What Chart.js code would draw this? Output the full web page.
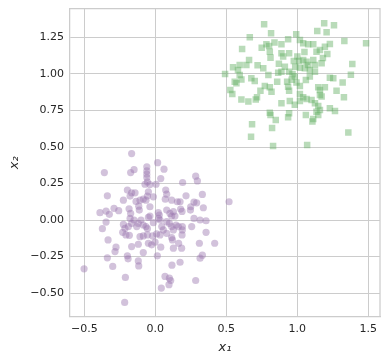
<!DOCTYPE html>
<html>
<head>
<meta charset="utf-8">
<script src="https://cdn.jsdelivr.net/npm/chart.js@4.4.0/dist/chart.umd.min.js"></script>
<style>
  html, body { margin: 0; padding: 0; background: #fff; }
  #wrap { width: 390px; height: 364px; }
</style>
</head>
<body>
<div id="wrap"><canvas id="scatter" width="390" height="364"></canvas></div>
<script>
// cluster around (0, 0)
const purpleX = [-0.167,-0.359,-0.174,-0.150,-0.06,-0.06,-0.06,-0.06,-0.056,0.016,0.061,0.038,0.284,0.296,0.192,
  -0.338,-0.197,-0.167,-0.143,-0.178,-0.225,-0.073,-0.038,0.005,-0.049,-0.056,-0.014,0.073,0.080,0.070,0.115,
  0.216,0.331,0.155,0.174,0.272,0.291,0.249,0.247,0.338,0.519,-0.390,-0.347,-0.324,-0.291,-0.258,-0.347,-0.373,
  -0.185,-0.174,-0.178,-0.136,-0.108,-0.117,-0.038,0.021,0.028,0.023,0.033,0.080,0.103,0.127,0.115,0.138,0.178,
  0.188,0.272,0.315,0.357,0.256,0.190,0.190,0.188,0.357,0.418,0.310,0.331,0.315,0.284,0.174,0.117,0.068,0.099,
  0.108,0.096,0.042,0.014,0.038,-0.211,-0.216,-0.502,-0.300,-0.338,-0.284,-0.277,-0.333,-0.197,-0.192,-0.120,
  -0.117,-0.167,-0.230,-0.207,-0.183,-0.085,-0.120,-0.108,-0.085,-0.056,-0.049,-0.026,-0.002,-0.019,0.009,0.033,
  0.045,0.056,0.080,0.115,0.120,0.127,0.164,0.185,0.115,0.127,0.146,0.162,0.080,0.099,-0.190,-0.167,-0.150,
  -0.131,-0.120,-0.101,-0.085,-0.066,-0.049,-0.014,-0.056,-0.225,-0.214,-0.113,-0.085,-0.066,-0.038];
const purpleY = [0.455,0.325,0.325,0.345,0.364,0.336,0.314,0.291,0.261,0.393,0.348,0.284,0.300,0.268,0.257,
  0.166,0.205,0.186,0.186,0.164,0.136,0.245,0.243,0.245,0.193,0.164,0.159,0.205,0.177,0.143,0.136,
  0.166,0.175,0.125,0.125,0.123,0.118,0.091,0.068,0.084,0.125,0.050,0.061,0.039,0.080,0.064,-0.014,-0.059,
  0.077,0.045,0.011,0.127,0.136,0.095,0.091,0.050,0.034,0.011,0.000,0.068,0.045,0.057,0.027,0.027,0.075,
  0.059,0.011,0.000,-0.005,-0.045,-0.045,-0.068,-0.102,-0.084,-0.159,-0.159,-0.241,-0.261,-0.414,-0.289,-0.309,-0.386,-0.398,
  -0.414,-0.443,-0.466,-0.245,-0.186,-0.393,-0.564,-0.334,-0.318,-0.259,-0.216,-0.186,-0.136,-0.245,-0.266,-0.280,
  -0.314,-0.182,-0.084,-0.102,-0.105,-0.223,-0.166,-0.114,-0.109,-0.102,-0.159,-0.170,-0.152,-0.109,-0.095,-0.102,
  -0.045,-0.068,-0.091,-0.120,-0.136,-0.193,-0.159,-0.193,-0.045,-0.068,-0.034,-0.045,-0.011,-0.023,-0.045,-0.023,0.000,
  -0.045,-0.023,0.000,-0.034,-0.045,0.018,-0.018,-0.059,-0.030,-0.057,0.068,0.143,0.136,0.027];

// cluster around (1, 1)
const greenX = [0.766,1.189,1.258,1.206,1.140,0.815,0.665,0.611,0.992,0.935,1.018,1.041,0.839,0.888,0.782,
  0.801,0.749,0.806,0.811,0.888,0.900,0.942,1.076,1.112,1.135,1.159,1.194,1.229,1.211,1.331,1.484,1.387,1.377,
  0.660,0.641,0.594,0.547,0.582,0.491,0.594,0.606,0.559,0.571,0.528,0.542,0.676,0.700,0.771,0.806,0.818,0.740,
  0.716,0.707,0.655,0.606,0.796,0.865,0.858,0.912,0.888,0.942,0.966,0.982,0.928,0.935,0.942,0.994,1.018,1.060,
  1.088,0.975,1.013,1.041,1.065,1.076,1.018,1.053,1.088,1.124,1.124,1.112,1.171,1.229,1.253,1.319,1.276,1.328,
  1.147,1.159,1.194,1.159,1.171,1.018,1.041,1.065,1.018,0.982,0.947,0.888,1.100,1.124,1.147,1.159,1.135,1.147,
  1.229,1.265,0.806,0.811,0.848,0.942,0.935,1.060,1.112,1.106,0.681,0.822,0.674,0.829,1.069,1.359,
  0.720,0.870,0.985,1.000,1.050,0.960,0.760,1.180];
const greenY = [1.340,1.347,1.333,1.285,1.295,1.279,1.251,1.171,1.272,1.237,1.233,1.210,1.215,1.203,1.203,
  1.192,1.180,1.153,1.112,1.142,1.119,1.142,1.203,1.203,1.153,1.164,1.187,1.205,1.137,1.226,1.210,1.068,0.995,
  1.096,1.062,1.062,1.046,1.027,1.000,0.993,0.963,0.947,0.936,0.890,0.863,0.970,0.952,0.918,0.909,0.879,0.886,
  0.840,0.826,0.811,0.826,0.993,1.009,0.947,1.050,1.016,1.016,1.000,0.982,0.947,0.913,0.886,0.941,0.918,0.959,
  0.982,1.089,1.089,1.096,1.084,1.062,1.043,1.039,1.027,1.016,1.062,1.096,1.073,0.975,0.970,0.941,0.886,0.840,
  0.909,0.890,0.909,0.856,0.845,0.863,0.840,0.829,0.815,0.790,0.815,0.799,0.822,0.799,0.781,0.753,0.742,0.719,
  0.765,0.747,0.735,0.719,0.685,0.731,0.703,0.719,0.692,0.674,0.655,0.630,0.571,0.507,0.514,0.600,
  1.060,1.070,1.050,1.120,1.150,0.960,1.040,1.110];

const xTicks = [-0.5, 0.0, 0.5, 1.0, 1.5];
const yTicks = [-0.5, -0.25, 0.0, 0.25, 0.5, 0.75, 1.0, 1.25];

const toPoints = (xs, ys) => xs.map((x, i) => ({ x: x, y: ys[i] }));
const minus = s => s.replace('-', '\u2212');

const gridColor = '#cccccc';
const tickFont = { family: 'DejaVu Sans', size: 11 };

new Chart(document.getElementById('scatter').getContext('2d'), {
  type: 'scatter',
  data: {
    datasets: [
      {
        label: 'class 0',
        data: toPoints(purpleX, purpleY),
        pointStyle: 'circle',
        pointRadius: 3.6,
        pointHoverRadius: 3.6,
        borderWidth: 0,
        backgroundColor: 'rgba(155,120,175,0.45)'
      },
      {
        label: 'class 1',
        data: toPoints(greenX, greenY),
        pointStyle: 'rect',
        pointRadius: 4.6,
        pointHoverRadius: 4.6,
        borderWidth: 0,
        backgroundColor: 'rgba(100,175,100,0.45)'
      }
    ]
  },
  options: {
    responsive: false,
    animation: false,
    events: [],
    layout: { padding: { left: 0, right: 10, top: 8.7, bottom: 0 } },
    plugins: { legend: { display: false }, tooltip: { enabled: false } },
    scales: {
      x: {
        type: 'linear',
        min: -0.601, max: 1.582,
        afterBuildTicks: s => { s.ticks = xTicks.map(v => ({ value: v })); },
        afterFit: s => { s.height = 47.3; s.paddingLeft = 0; s.paddingRight = 0; },
        ticks: { color: '#262626', font: tickFont, padding: 6,
          callback: v => minus(v.toFixed(1)) },
        grid: { color: gridColor, lineWidth: 1, drawTicks: false },
        border: { color: gridColor, width: 1.25 },
        title: { display: true, text: 'x\u2081', color: '#262626', padding: { top: 0, bottom: 9 },
          font: { family: 'DejaVu Sans', size: 13, style: 'italic' } }
      },
      y: {
        type: 'linear',
        min: -0.662, max: 1.447,
        afterBuildTicks: s => { s.ticks = yTicks.map(v => ({ value: v })); },
        afterFit: s => { s.width = 70; s.paddingTop = 0; s.paddingBottom = 0; },
        ticks: { color: '#262626', font: tickFont, padding: 6,
          callback: v => minus(v.toFixed(2)) },
        grid: { color: gridColor, lineWidth: 1, drawTicks: false },
        border: { color: gridColor, width: 1.25 },
        title: { display: true, text: 'x\u2082', color: '#262626', padding: { top: 7, bottom: 0 },
          font: { family: 'DejaVu Sans', size: 13, style: 'italic' } }
      }
    }
  },
  plugins: [{
    id: 'rightTopBorder',
    afterDraw(chart) {
      const a = chart.chartArea, c = chart.ctx;
      c.save();
      c.strokeStyle = gridColor;
      c.lineWidth = 1.25;
      c.beginPath();
      c.moveTo(a.left, a.top); c.lineTo(a.right, a.top); c.lineTo(a.right, a.bottom);
      c.stroke();
      c.restore();
    }
  }]
});
</script>
</body>
</html>
